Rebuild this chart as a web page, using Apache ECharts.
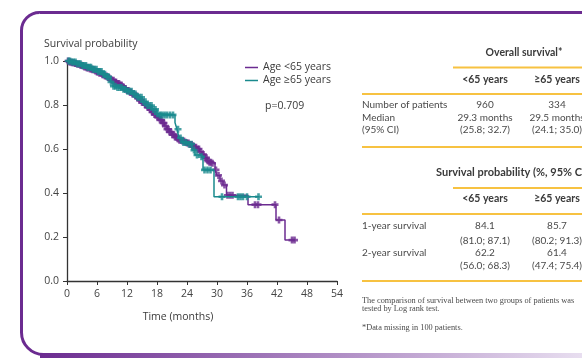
<!DOCTYPE html>
<html>
<head>
<meta charset="utf-8">
<script src="https://cdn.jsdelivr.net/npm/echarts@6/dist/echarts.min.js"></script>
<style>html,body{margin:0;padding:0;background:#fff;}#c{width:582px;height:362px;}</style>
</head>
<body>
<div id="c"></div>
<script>
// ---- data ----
const xTicks = [0, 6, 12, 18, 24, 30, 36, 42, 48, 54];
const yTicks = [0.0, 0.2, 0.4, 0.6, 0.8, 1.0];

const timeLt65 = [0,0.5,1,1.5,2,2.5,3,3.5,4,4.5,
  5,5.5,6,6.5,7,7.5,8,8.5,9,9.5,
  10,10.5,11,11.5,12,12.5,13,13.5,14,14.5,
  15,15.5,16,16.5,17,17.5,18,18.5,19,19.5,
  20,20.5,21,21.5,22,22.5,23,23.5,24,24.5,
  25,25.5,26,26.5,27,27.5,28,28.5,29,29.6,
  30,30.6,31.2,31.9,36.2,41.8,43.6,45.6];
const survLt65 = [1.0,0.996,0.992,0.989,0.985,0.981,0.977,0.973,0.968,0.964,
  0.960,0.955,0.950,0.944,0.938,0.932,0.925,0.918,0.912,0.905,
  0.898,0.891,0.883,0.875,0.866,0.858,0.850,0.841,0.832,0.822,
  0.812,0.801,0.790,0.779,0.768,0.757,0.745,0.732,0.718,0.704,
  0.690,0.677,0.665,0.655,0.645,0.640,0.636,0.631,0.627,0.621,
  0.615,0.608,0.600,0.588,0.575,0.560,0.545,0.540,0.535,0.505,
  0.480,0.455,0.436,0.390,0.347,0.277,0.186,0.186];

const timeGe65 = [0,1,2,3,4,5,6,7,8,8.7,
  9.2,10,11,12,13,14,15,16,17,18,
  18.3,21.6,22.0,22.4,23,24,25,25.6,26.6,27.2,
  29.4,38.5];
const survGe65 = [1.0,0.995,0.988,0.980,0.972,0.962,0.952,0.940,0.928,0.905,
  0.885,0.880,0.872,0.862,0.850,0.835,0.815,0.798,0.780,0.760,
  0.755,0.720,0.690,0.650,0.630,0.622,0.595,0.573,0.565,0.505,
  0.383,0.383];

const censorLt65 = [0.2,0.5,0.7,1.0,1.3,1.6,1.8,2.1,2.4,2.7,2.9,3.2,3.5,3.8,4.0,4.3,4.6,4.9,5.1,5.4,
  5.7,6.0,6.2,6.5,6.8,7.1,7.3,7.6,7.9,8.2,8.4,8.7,9.0,9.3,9.5,9.8,10.1,10.4,10.6,10.9,
  11.2,11.5,11.7,12.0,12.3,12.6,12.8,13.1,13.4,13.7,13.9,14.2,14.5,14.8,15.0,15.3,15.6,15.9,16.1,16.4,
  16.7,17.0,17.2,17.5,17.8,18.1,18.3,18.6,18.9,19.2,19.4,19.7,20.0,20.3,20.5,20.8,21.1,21.4,21.6,21.9,
  22.2,22.5,22.8,23.1,23.4,23.7,24.0,24.3,24.6,24.9,25.2,25.5,25.8,26.1,26.4,26.7,27.0,27.3,27.6,27.9,
  28.2,28.5,28.8,29.1,29.8,30.3,30.9,31.5,32.1,32.6,33.1,37.6,38.2,41.6,42.4,45.0,45.5];
const censorGe65 = [0.3,0.6,1.0,1.3,1.7,2.0,2.4,2.7,3.1,3.4,3.8,4.1,4.5,4.8,5.2,5.5,5.9,6.2,6.6,6.9,
  7.3,7.6,8.0,8.3,8.8,9.3,9.7,10.1,10.5,10.9,11.3,11.7,12.1,12.5,12.9,13.3,13.7,14.1,14.5,14.9,
  15.3,15.7,16.1,16.5,16.9,17.3,17.7,18.1,18.6,19.0,19.5,20.0,20.6,21.2,22.2,22.7,23.3,23.8,24.4,24.9,
  25.4,26.0,26.9,27.5,28.1,28.7,31.0,34.2,34.7,35.2,36.0,38.3];

const seriesNames = ['Age <65 years', 'Age \u226565 years'];
const pValue = 'p=0.709';

// ---- helpers ----
function pairs(t, s) { return t.map((v, i) => [v, s[i]]); }
function stepAt(t, s, c) { let v = s[0]; for (let i = 0; i < t.length; i++) { if (t[i] <= c) v = s[i]; } return v; }
function censorPts(times, t, s) { return times.map(c => [c, stepAt(t, s, c)]); }

const PURPLE = '#6b2b90';
const TEAL = '#198a8d';
const GOLD = '#f7c241';
const plus = 'path://M2.5,0H5.5V2.5H8V5.5H5.5V8H2.5V5.5H0V2.5H2.5Z';
const TXT = '#3a3a3a';
const BODY = '#4a4a4a';
const F = 'Lato';

const chart = echarts.init(document.getElementById('c'), null, {renderer: 'canvas'});

function t(text, x, y, opts) {
  opts = opts || {};
  return {type: 'text', x: x, y: y, silent: true, z: 10,
    style: {text: text, fill: opts.fill || BODY, fontSize: opts.size || 10,
      fontFamily: opts.family || F, fontWeight: opts.weight || 'normal',
      align: opts.align || 'left', verticalAlign: 'middle'}};
}
function gl(x1, y, x2) {
  return {type: 'line', silent: true, shape: {x1: x1, y1: y, x2: x2, y2: y}, style: {stroke: GOLD, lineWidth: 2}};
}

const c1 = 485, c2 = 557, L = 362;
const B = {weight: 'bold', align: 'center', fill: TXT, size: 10.5};
const N = {family: 'Liberation Serif', size: 8.3};
const graphics = [
  {type: 'rect', silent: true, shape: {x: 21.5, y: 12.5, width: 620, height: 342, r: [18, 0, 0, 22]},
    style: {fill: 'none', stroke: PURPLE, lineWidth: 3}},
  {type: 'rect', silent: true, shape: {x: 40, y: 353, width: 560, height: 5},
    style: {fill: new echarts.graphic.LinearGradient(0, 0, 1, 0, [{offset: 0, color: PURPLE}, {offset: 1, color: '#ece4f3'}])}},
  t('Survival probability', 44, 44, {family: 'Open Sans', size: 10.5, fill: TXT}),
  t('Time (months)', 178, 317, {family: 'Open Sans', size: 10.5, align: 'center', fill: TXT}),
  t(pValue, 265, 106, {family: 'Open Sans', size: 10.5, fill: TXT}),
  // table 1
  t('Overall survival*', 524, 53, B),
  gl(453, 67.5, 600),
  t('<65 years', c1, 80, B),
  t('\u226565 years', c2, 80, B),
  gl(L, 94, 600),
  t('Number of patients', L, 105), t('960', c1, 105, {align: 'center'}), t('334', c2, 105, {align: 'center'}),
  t('Median', L, 118), t('29.3 months', c1, 118, {align: 'center'}), t('29.5 months', c2, 118, {align: 'center'}),
  t('(95% CI)', L, 130), t('(25.8; 32.7)', c1, 130, {align: 'center'}), t('(24.1; 35.0)', c2, 130, {align: 'center'}),
  gl(L, 147, 600),
  // table 2
  t('Survival probability (%, 95% CI)', 436, 172, {weight: 'bold', fill: TXT, size: 11}),
  gl(453, 188, 600),
  t('<65 years', c1, 199, B),
  t('\u226565 years', c2, 199, B),
  gl(L, 214, 600),
  t('1-year survival', L, 226), t('84.1', c1, 226, {align: 'center'}), t('85.7', c2, 226, {align: 'center'}),
  t('(81.0; 87.1)', c1, 240.5, {align: 'center'}), t('(80.2; 91.3)', c2, 240.5, {align: 'center'}),
  t('2-year survival', L, 253), t('62.2', c1, 253, {align: 'center'}), t('61.4', c2, 253, {align: 'center'}),
  t('(56.0; 68.3)', c1, 265.5, {align: 'center'}), t('(47.4; 75.4)', c2, 265.5, {align: 'center'}),
  gl(L, 281, 600),
  t('The comparison of survival between two groups of patients was', L, 301, N),
  t('tested by Log rank test.', L, 308.5, N),
  t('*Data missing in 100 patients.', L, 328, N)
];

const axisLabel = {color: '#444', fontSize: 10.5, fontFamily: 'Open Sans'};

chart.setOption({
  animation: false,
  backgroundColor: '#fff',
  grid: {left: 67, top: 61, width: 270, height: 220, containLabel: false},
  legend: {
    data: seriesNames, orient: 'vertical', left: 245, top: 62, itemGap: 2, padding: 0,
    icon: 'rect', itemWidth: 13, itemHeight: 1.5,
    textStyle: {color: TXT, fontSize: 10.5, fontFamily: 'Open Sans'},
    selectedMode: false
  },
  xAxis: {
    type: 'value', min: xTicks[0], max: xTicks[xTicks.length - 1], interval: 6,
    axisLine: {show: true, lineStyle: {color: '#333', width: 1.3}},
    axisTick: {show: true, length: 4, lineStyle: {color: '#333'}},
    axisLabel: Object.assign({margin: 8}, axisLabel),
    splitLine: {show: false}
  },
  yAxis: {
    type: 'value', min: yTicks[0], max: yTicks[yTicks.length - 1], interval: 0.2,
    axisLine: {show: true, lineStyle: {color: '#333', width: 1.3}},
    axisTick: {show: true, length: 4, lineStyle: {color: '#333'}},
    axisLabel: Object.assign({margin: 8, formatter: v => v.toFixed(1)}, axisLabel),
    splitLine: {show: false}
  },
  graphic: graphics,
  series: [
    {name: seriesNames[0], type: 'line', step: 'end', data: pairs(timeLt65, survLt65),
      showSymbol: false, lineStyle: {color: PURPLE, width: 1.5}, itemStyle: {color: PURPLE}, z: 3},
    {name: seriesNames[1], type: 'line', step: 'end', data: pairs(timeGe65, survGe65),
      showSymbol: false, lineStyle: {color: TEAL, width: 1.5}, itemStyle: {color: TEAL}, z: 4},
    {name: 'cLt65', type: 'scatter', data: censorPts(censorLt65, timeLt65, survLt65),
      symbol: plus, symbolSize: 7, itemStyle: {color: PURPLE}, z: 3},
    {name: 'cGe65', type: 'scatter', data: censorPts(censorGe65, timeGe65, survGe65),
      symbol: plus, symbolSize: 7, itemStyle: {color: TEAL}, z: 4}
  ]
});
</script>
</body>
</html>
